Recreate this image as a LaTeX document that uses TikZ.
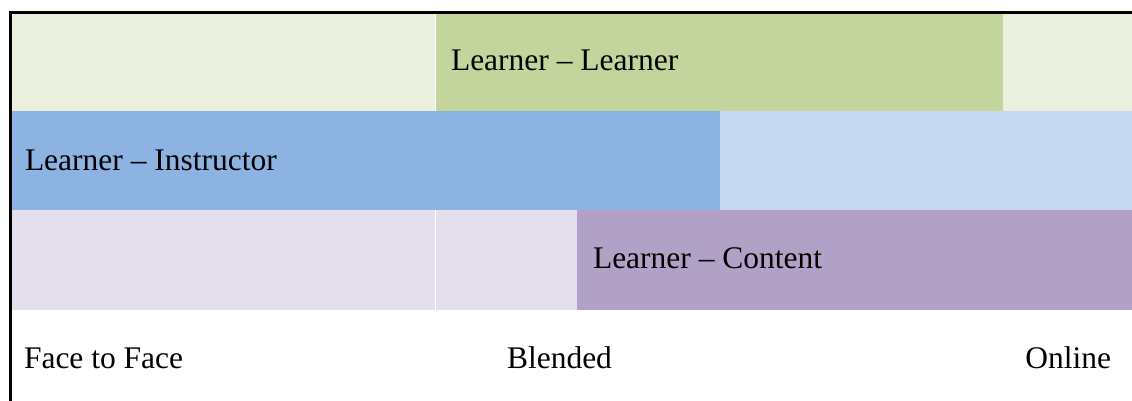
\documentclass[tikz,border=0pt]{standalone}
\usepackage{fontspec}
\setmainfont{Liberation Serif}
\definecolor{lgreen}{HTML}{EBF0DE}
\definecolor{mgreen}{HTML}{C3D59C}
\definecolor{mblue}{HTML}{8DB3E2}
\definecolor{lblue}{HTML}{C6D9F0}
\definecolor{lpurple}{HTML}{E4DFEC}
\definecolor{mpurple}{HTML}{B2A1C7}
\tikzset{
  cell/.style={inner sep=0pt, outer sep=0pt},
  lbl/.style={anchor=base west, inner sep=0pt, outer sep=0pt, font=\fontsize{31.5}{36}\selectfont, text=black}
}
\begin{document}
\begin{tikzpicture}[x=1pt,y=-1pt]
\useasboundingbox (0,0) rectangle (1132,400);
% row 1
\fill[lgreen] (11,12) rectangle (435,111);
\fill[mgreen] (436,12) rectangle (1003,111);
\fill[lgreen] (1003,12) rectangle (1132,111);
% row 2
\fill[mblue] (11,111) rectangle (720,210);
\fill[lblue] (720,111) rectangle (1132,210);
% row 3
\fill[lpurple] (11,210) rectangle (435,310);
\fill[lpurple] (436,210) rectangle (577,310);
\fill[mpurple] (577,210) rectangle (1132,310);
% frame
\coordinate (bl) at (10,400);
\coordinate (tl) at (10,12);
\coordinate (tr) at (1132,12);
\draw[line width=3pt, line cap=rect] (bl) -- (tl) -- (tr);
% labels
\node[lbl] (ll) at (451,70) {Learner – Learner};
\node[lbl] (li) at (25,170) {Learner – Instructor};
\node[lbl] (lc) at (593,268) {Learner – Content};
\node[lbl] (f2f) at (24,368) {Face to Face};
\node[lbl] (bl2) at (507,368) {Blended};
\node[lbl, anchor=base east] (on) at (1111,368) {Online};
\end{tikzpicture}
\end{document}
